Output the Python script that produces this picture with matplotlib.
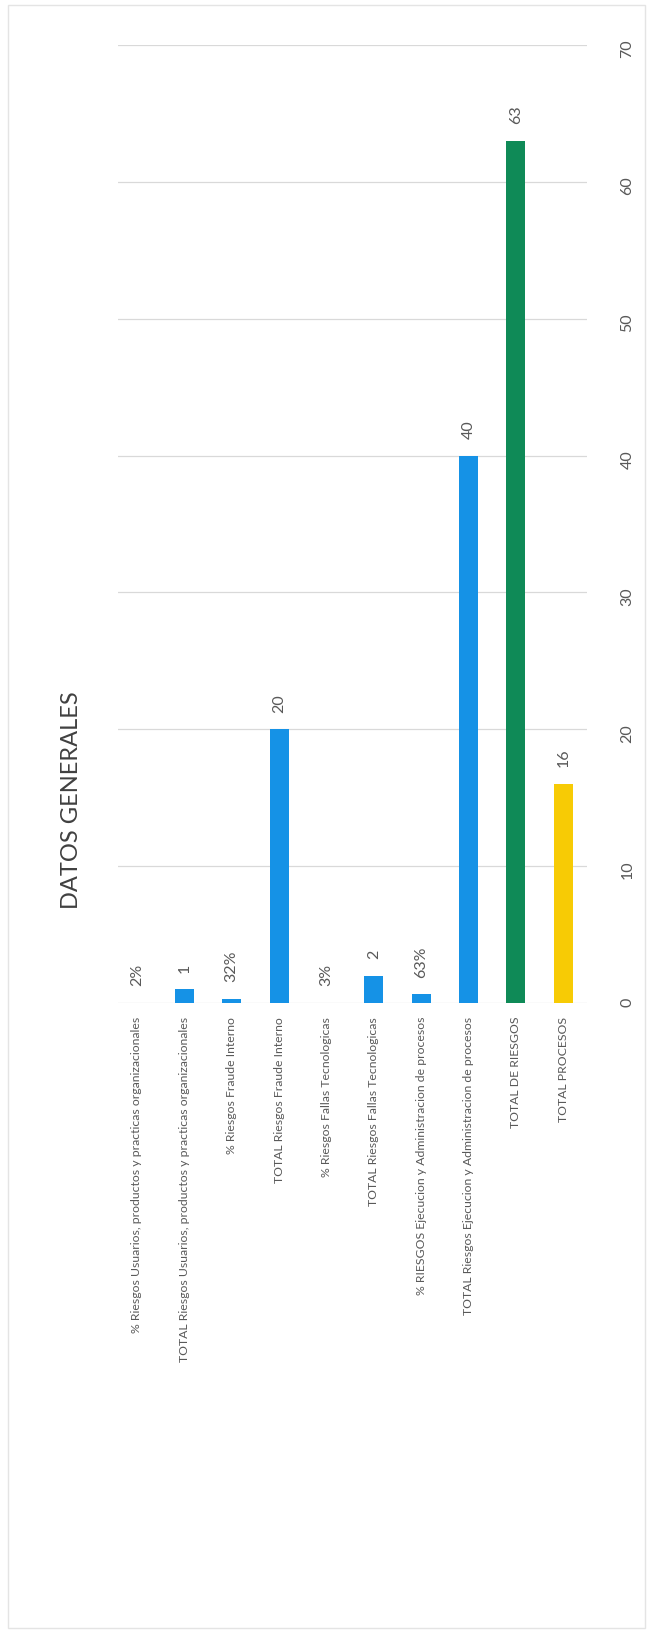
import matplotlib
matplotlib.use("Agg")
import matplotlib.pyplot as plt
from matplotlib.patches import Rectangle

plt.rcParams['font.family'] = ['Lato', 'DejaVu Sans']

# datos del grafico (orden de arriba hacia abajo en el original)
categorias = [
    "% Riesgos Usuarios, productos y practicas organizacionales",
    "TOTAL Riesgos Usuarios, productos y practicas organizacionales",
    "% Riesgos Fraude Interno",
    "TOTAL Riesgos Fraude Interno",
    "% Riesgos Fallas Tecnologicas",
    "TOTAL Riesgos Fallas Tecnologicas",
    "% RIESGOS Ejecucion y Administracion de procesos",
    "TOTAL Riesgos Ejecucion y Administracion de procesos",
    "TOTAL DE RIESGOS",
    "TOTAL PROCESOS",
]
valores = [0.02, 1, 0.32, 20, 0.03, 2, 0.63, 40, 63, 16]
etiquetas = ["2%", "1", "32%", "20", "3%", "2", "63%", "40", "63", "16"]
colores = ["#1592e6"] * 8 + ["#0f8a57", "#f7cb05"]
ticks_valor = [0, 10, 20, 30, 40, 50, 60, 70]

gris = "#595959"

fig = plt.figure(figsize=(6.5, 16.52), dpi=100)
# el grafico viene escaneado girado: barras verticales y textos a 90 grados
ax = fig.add_axes([118 / 650, 1 - 1003 / 1652, (587 - 118) / 650, (1003 - 45) / 1652])

x = list(range(len(categorias)))
ax.bar(x, valores, width=0.4, color=colores, zorder=3)

for i, (v, t) in enumerate(zip(valores, etiquetas)):
    ax.annotate(t, (i, v), xytext=(0, 12), textcoords='offset points',
                rotation=90, ha='center', va='bottom', fontsize=11.5, color=gris)

ax.set_ylim(0, 70)
ax.set_xlim(-0.4, 9.5)
ax.set_yticks(ticks_valor)
ax.set_yticklabels([str(t) for t in ticks_valor])
ax.yaxis.grid(True, color="#d9d9d9", linewidth=0.9, zorder=0)
ax.set_axisbelow(True)

ax.set_xticks(x)
ax.set_xticklabels(categorias, rotation=90, ha='center', va='top', fontsize=8.8, color=gris)
ax.tick_params(axis='x', length=0, pad=10)
ax.tick_params(axis='y', length=0, left=False, labelleft=False, right=False,
               labelright=True, labelrotation=90, pad=24, labelsize=11.5, labelcolor=gris)
for s in ax.spines.values():
    s.set_visible(False)

fig.text(71 / 650, 1 - 800 / 1652, "DATOS GENERALES", rotation=90, ha='center', va='center',
         fontsize=17, color="#404040")

# marco del grafico
fig.patches.append(Rectangle((8 / 650, 1 - 1628 / 1652), (645 - 8) / 650, (1628 - 5) / 1652,
                             transform=fig.transFigure, fill=False, edgecolor="#e4e4e4", linewidth=1))

fig.savefig("out.png", dpi=100)
